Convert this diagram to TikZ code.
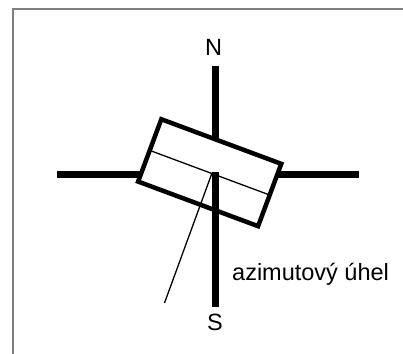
\documentclass[tikz,border=0pt]{standalone}
\usepackage{fontspec}
\setmainfont{Liberation Sans}
\begin{document}
\begin{tikzpicture}[x=1pt,y=-1pt,
  axisline/.style={line width=6.8pt,black},
  thinline/.style={line width=1.3pt,black},
  frameline/.style={line width=1.4pt,black!50},
  boxshape/.style={draw,fill=white,line width=4.5pt,rectangle,minimum width=128pt,minimum height=66.5pt,inner sep=0pt,outer sep=0pt,rotate=-20.4},
  lbl/.style={inner sep=0pt,font=\fontsize{23.5pt}{28pt}\selectfont}
]
\useasboundingbox (0,0) rectangle (403,353);
\fill[white] (0,0) rectangle (403,353);
% frame
\coordinate (fbl) at (13,354);
\coordinate (ftl) at (13,9);
\coordinate (ftr) at (404,9);
\draw[frameline] (fbl) -- (ftl) -- (ftr);
% axis end points
\coordinate (ntop) at (215.7,65.7);
\coordinate (ctr) at (215.7,172);
\coordinate (sbot) at (215.7,306.7);
\coordinate (wend) at (57,174.8);
\coordinate (eend) at (358.5,174.8);
\coordinate (ptop) at (212,173);
\coordinate (pbot) at (164.5,303);
% lines under the box
\draw[axisline] (ntop) -- (ctr);
\draw[axisline] (wend) -- (eend);
% box
\node[boxshape] (box) at (209.7,172.7) {};
\draw[thinline] (box.west) -- (box.east);
% lines over the box
\draw[axisline] (ctr) -- (sbot);
\draw[thinline] (ptop) -- (pbot);
% labels
\node[lbl,anchor=base] (nlbl) at (213.5,55.7) {N};
\node[lbl,anchor=base] (slbl) at (215,330.7) {S};
\node[lbl,anchor=base west] (alabel) at (232,280.7) {azimutový úhel};
\end{tikzpicture}
\end{document}
